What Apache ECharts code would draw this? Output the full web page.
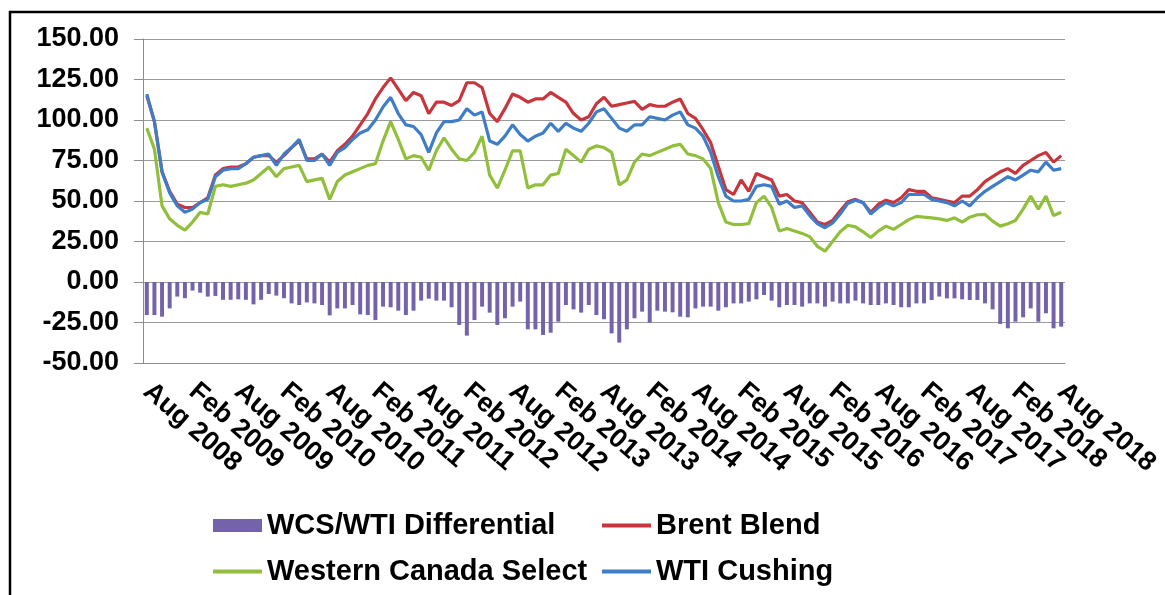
<!DOCTYPE html>
<html>
<head>
<meta charset="utf-8">
<script src="https://cdn.jsdelivr.net/npm/echarts@6/dist/echarts.min.js"></script>
<style>
  html, body { margin: 0; padding: 0; background: #fff; }
  #main { width: 1165px; height: 595px; }
</style>
</head>
<body>
<div id="main"></div>
<script>
// monthly, Aug 2008 .. Aug 2018
const monthNames = ['Jan', 'Feb', 'Mar', 'Apr', 'May', 'Jun', 'Jul', 'Aug', 'Sep', 'Oct', 'Nov', 'Dec']
const categories = []
for (let k = 0; k < 121; k++) {
  categories.push(monthNames[(7 + k) % 12] + ' ' + (2008 + Math.floor((7 + k) / 12)))
}

const differential = [
  -20.4, -20.4, -21.4, -16.3, -9, -10, -5.3, -6.6, -9, -8.6,
  -11, -11, -10.7, -11, -13.8, -11, -7.4, -8.4, -10, -13.2,
  -14.2, -12.6, -13.2, -14.2, -20.6, -16.3, -16.3, -14.2, -20, -20.4,
  -23.5, -15.2, -15.6, -17.7, -20.4, -17.7, -11.5, -10.3, -11.5, -11.5,
  -15.6, -26.5, -33.1, -23.5, -15.2, -18.9, -26.5, -22.4, -15.2, -12.1,
  -29.2, -29.2, -32.7, -31.3, -24.5, -14.2, -16.9, -18.9, -14.2, -20.4,
  -23, -31.7, -37.4, -29.2, -22.4, -18.3, -25.1, -17.7, -18.3, -18.7,
  -21.4, -21.8, -16.3, -15.2, -15.2, -17.7, -15.6, -13.2, -13.2, -12.1,
  -10.7, -8, -11.5, -15.6, -14.2, -14.2, -15.2, -13.2, -13.2, -15.2,
  -12.1, -13.2, -13.2, -11.5, -13.2, -14.2, -14.2, -13.2, -14.2, -15.6,
  -15.6, -13.2, -13.2, -11.1, -9, -10.1, -10.1, -10.7, -11.1, -11.1,
  -13.2, -16.9, -25.9, -28.6, -24.5, -21.8, -16.3, -24.5, -19.3, -28.6,
  -27.6
]

const brent = [
  115, 99, 68, 56, 48, 46, 46, 49, 52, 66,
  70, 71, 71, 73, 77, 78, 78, 74, 78, 83,
  87, 76, 76, 79, 74, 81, 85, 90, 97, 104,
  113, 120, 126, 119, 112, 117, 115, 104, 111, 111,
  109, 112, 123, 123, 120, 104, 99, 107, 116, 114,
  111, 113, 113, 117, 114, 111, 104, 100, 102, 110,
  114, 108.5, 109.5, 110.5, 111.5, 106.5, 109.5, 108.5, 108.5, 111,
  113, 104, 101, 94, 86, 71.5, 57, 54, 63, 56,
  67, 65, 63, 53, 54, 50, 49, 43, 37, 35.5,
  38, 44, 49.5, 51, 49, 43, 48, 50.5, 49, 52,
  57, 56, 56, 52, 51, 50, 49, 53, 53, 57,
  62, 65, 68, 70, 67, 72, 75, 78, 80, 74,
  78
]

const wcs = [
  95, 82, 47, 39, 35, 32, 37, 43, 42, 59,
  60, 59, 60, 61, 63, 67, 71, 65, 70, 71,
  72, 62, 63, 64, 51, 62, 66, 68, 70, 72,
  73, 87, 99, 88, 76, 78, 77, 69, 81, 89,
  82, 76, 75, 80, 90, 66, 58, 69, 81, 81,
  58, 60, 60, 66, 67, 82, 78, 74, 82, 84,
  83, 80, 60, 63, 74, 79, 78, 80, 82, 84,
  85, 79, 78, 76, 70, 49, 37, 35.5, 35.5, 36,
  49, 53, 46, 31.5, 33, 31.5, 30, 28, 22, 19,
  25, 31, 35, 34, 31, 27.5, 31.4, 34.5, 32.5, 35.5,
  38.5, 40.5, 40, 39.6, 39, 38, 39.6, 37, 40, 41.5,
  41.7, 37.6, 34.5, 36, 38, 45, 53, 45, 53, 41,
  43
]

const wti = [
  116, 99, 68, 55, 47, 43, 45, 49, 51, 65,
  69, 70, 70, 73, 77, 78, 79, 72, 79, 83,
  88, 75, 75, 79, 72, 80, 83, 88, 92, 94,
  100, 108, 114, 104, 97, 96, 91, 80, 92, 99,
  99, 100, 107, 103, 105, 87, 85, 90, 97, 91,
  87, 90, 92, 98, 93, 98, 95, 93, 98, 105,
  107, 101, 95, 93, 97, 97, 102, 101, 100, 103,
  105, 97, 95, 90, 80, 65, 53, 50, 50, 51,
  59, 60, 59, 48, 50, 46, 47, 41, 36, 33.5,
  36.5, 42, 48.5, 50.5, 49, 42, 46, 49, 47, 49,
  54, 54, 54, 51, 50, 49, 47, 50, 47, 52,
  56, 59, 62, 65, 63, 66, 69, 68, 74, 69,
  70
]

const yTicks = { min: -50, max: 150, step: 25 }

const myChart = echarts.init(document.getElementById('main'), null, { renderer: 'canvas' })

const font = 'Liberation Sans, Arial, sans-serif'
const legendText = { fontSize: 29, fontWeight: 'bold', color: '#000', fontFamily: font }

function legendItem(name, left, top, icon, h) {
  return {
    data: [name],
    left: left,
    top: top,
    icon: icon,
    itemWidth: 49,
    itemHeight: h,
    itemGap: 0,
    padding: 0,
    selectedMode: false,
    textStyle: legendText
  }
}

const option = {
  backgroundColor: '#ffffff',
  animation: false,
  graphic: [
    {
      type: 'rect',
      shape: { x: 10, y: 12, width: 1200, height: 700 },
      style: { fill: 'none', stroke: '#000', lineWidth: 2.5 },
      silent: true
    }
  ],
  legend: [
    legendItem('WCS/WTI Differential', 213, 511, 'rect', 13),
    legendItem('Brent Blend', 602, 511, 'rect', 4),
    legendItem('Western Canada Select', 213, 557, 'rect', 4),
    legendItem('WTI Cushing', 602, 557, 'rect', 4)
  ],
  grid: {
    left: 143,
    top: 39,
    width: 922,
    height: 324,
    containLabel: false
  },
  xAxis: {
    type: 'category',
    data: categories,
    boundaryGap: true,
    axisLine: { show: true, onZero: false, lineStyle: { color: '#8c8c8c', width: 1 } },
    axisTick: { show: false },
    splitLine: { show: false },
    axisLabel: {
      interval: 5,
      rotate: -41,
      margin: 25,
      fontSize: 27,
      fontWeight: 'bold',
      color: '#000',
      fontFamily: font
    }
  },
  yAxis: {
    type: 'value',
    min: yTicks.min,
    max: yTicks.max,
    interval: yTicks.step,
    axisLine: { show: true, lineStyle: { color: '#8c8c8c', width: 1 } },
    axisTick: { show: true, length: 9, lineStyle: { color: '#8c8c8c' } },
    splitLine: { show: true, lineStyle: { color: '#9a9a9a', width: 1 } },
    axisLabel: {
      margin: 24,
      fontSize: 27,
      fontWeight: 'bold',
      color: '#000',
      fontFamily: font,
      formatter: function(v) {
        return v.toFixed(2)
      }
    }
  },
  series: [
    {
      name: 'WCS/WTI Differential',
      type: 'bar',
      barWidth: '52%',
      itemStyle: { color: '#7462ab' },
      data: differential
    },
    {
      name: 'Brent Blend',
      type: 'line',
      symbol: 'none',
      lineStyle: { width: 3.2, color: '#c6363c' },
      itemStyle: { color: '#c6363c' },
      data: brent
    },
    {
      name: 'Western Canada Select',
      type: 'line',
      symbol: 'none',
      lineStyle: { width: 3.2, color: '#92bf3b' },
      itemStyle: { color: '#92bf3b' },
      data: wcs
    },
    {
      name: 'WTI Cushing',
      type: 'line',
      symbol: 'none',
      lineStyle: { width: 3.2, color: '#3f7dc6' },
      itemStyle: { color: '#3f7dc6' },
      data: wti
    }
  ]
}

myChart.setOption(option)
</script>
</body>
</html>
